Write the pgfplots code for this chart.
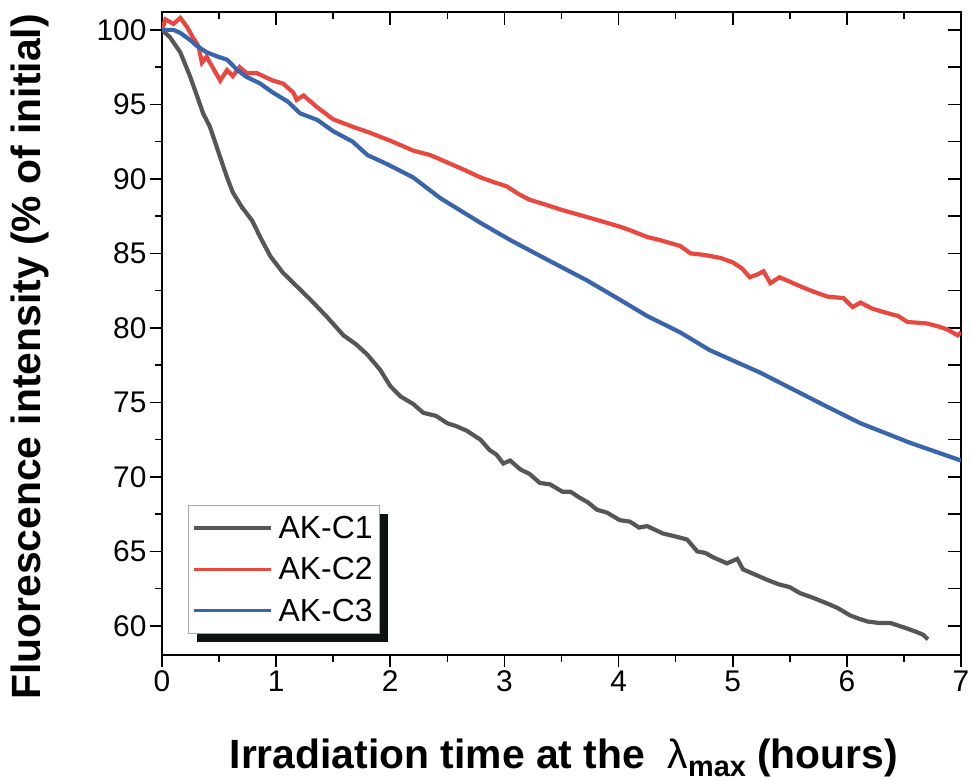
\documentclass[border=0pt]{standalone}
\usepackage{fontspec}
\setmainfont{Liberation Sans}
\usepackage{pgfplots}
\pgfplotsset{compat=1.18}
\usetikzlibrary{calc}
\definecolor{cGray}{RGB}{88,86,84}
\definecolor{cRed}{RGB}{232,72,64}
\definecolor{cBlue}{RGB}{58,100,172}
\definecolor{cShadow}{RGB}{16,20,16}

\begin{document}
\begin{tikzpicture}
\pgfplotsset{
  frame/.style={
    scale only axis, width=799bp, height=643bp,
    xmin=0, xmax=7, ymin=58.05, ymax=101.2,
    axis line style={line width=1.6bp},
    every tick/.style={line width=1.6bp, black},
    /pgf/number format/assume math mode=true,
    tick label style={font=\fontsize{30}{32}\selectfont},
  }
}
% top and right: ticks pointing in
\begin{axis}[frame,
    xtick={0,...,7}, minor x tick num=1,
    ytick={60,62.5,...,100},
    xtick pos=right, ytick pos=right, tick align=inside,
    major tick length=13bp, minor tick length=7bp,
    xticklabels={}, yticklabels={}]
\end{axis}
% main axis
\begin{axis}[frame,
    xtick={0,...,7}, minor x tick num=1,
    ytick={60,65,...,100}, minor y tick num=1,
    xtick pos=left, ytick pos=left, tick align=outside,
    major tick length=12bp, minor tick length=7bp,
    xlabel={\bfseries Irradiation time at the \ \textmd{λ}{\fontsize{29}{30}\selectfont\raisebox{-8bp}{max}} (hours)},
    ylabel={\bfseries Fluorescence intensity (\% of initial)},
    label style={font=\fontsize{41}{44}\selectfont},
    xlabel style={at={(axis description cs:0.503,-0.176)}, anchor=base},
    ylabel style={at={(axis description cs:-0.152,0.4635)}, anchor=base},
    legend style={at={(axis description cs:0.0375,0.2160)}, anchor=north west,
      draw=none, fill=none,
      font=\fontsize{32}{35}\selectfont,
      nodes={inner sep=0pt},
      inner sep=0pt, row sep=17.5bp,
      /tikz/every odd column/.append style={column sep=6bp},
      cells={anchor=west}},
    legend image code/.code={\draw[#1, line width=3.5bp] (0bp,0bp) -- (77bp,0bp);},
    legend cell align=left,
  ]
\addplot[cGray, line width=4.2bp] coordinates {
(0,100) (0.07,99.5) (0.16,98.5) (0.245,96.9) (0.31,95.5) (0.36,94.4) (0.42,93.5)
(0.49,91.9) (0.57,90.1) (0.62,89.1) (0.70,88.1) (0.79,87.2) (0.86,86.1) (0.95,84.8)
(1.06,83.7) (1.18,82.8) (1.30,81.9) (1.45,80.7) (1.59,79.5) (1.70,78.9) (1.80,78.2)
(1.91,77.2) (2.00,76.1) (2.09,75.4) (2.20,74.9) (2.29,74.3) (2.40,74.1) (2.50,73.6)
(2.58,73.4) (2.67,73.1) (2.79,72.5) (2.87,71.8) (2.93,71.5) (2.99,70.9) (3.05,71.1)
(3.14,70.5) (3.22,70.2) (3.31,69.6) (3.40,69.5) (3.51,69.0) (3.58,69.0) (3.66,68.6)
(3.73,68.3) (3.81,67.8) (3.90,67.6) (4.01,67.1) (4.10,67.0) (4.18,66.6) (4.25,66.7)
(4.39,66.2) (4.50,66.0) (4.60,65.8) (4.69,65.0) (4.76,64.9) (4.83,64.6) (4.95,64.2)
(5.04,64.5) (5.09,63.8) (5.18,63.5) (5.30,63.1) (5.40,62.8) (5.50,62.6) (5.59,62.2)
(5.70,61.9) (5.83,61.5) (5.92,61.2) (6.03,60.7) (6.10,60.5) (6.18,60.3) (6.28,60.2)
(6.38,60.2) (6.50,59.9) (6.61,59.6) (6.67,59.4) (6.71,59.1)
};
\addlegendentry{AK-C1}
\addplot[cRed, line width=4.2bp] coordinates {
(0,100) (0.03,100.7) (0.1,100.4) (0.16,100.8) (0.22,100.2) (0.27,99.5) (0.32,98.9)
(0.35,97.8) (0.39,98.2) (0.45,97.4) (0.51,96.6) (0.57,97.3) (0.62,96.9) (0.68,97.5)
(0.74,97.1) (0.83,97.1) (0.97,96.6) (1.06,96.4) (1.15,95.8) (1.18,95.3) (1.24,95.6)
(1.36,94.8) (1.50,94.0) (1.67,93.5) (1.82,93.1) (2.02,92.5) (2.20,91.9) (2.35,91.6)
(2.50,91.1) (2.65,90.6) (2.79,90.1) (2.90,89.8) (3.02,89.5) (3.12,89.0) (3.22,88.6)
(3.35,88.3) (3.51,87.9) (3.65,87.6) (3.81,87.25) (4.01,86.8) (4.12,86.5) (4.25,86.1)
(4.36,85.9) (4.54,85.5) (4.63,85.0) (4.75,84.9) (4.89,84.7) (5.00,84.4) (5.08,84.0)
(5.15,83.4) (5.22,83.6) (5.27,83.8) (5.33,83.0) (5.41,83.4) (5.50,83.1) (5.62,82.7)
(5.72,82.4) (5.83,82.1) (5.97,82.0) (6.05,81.4) (6.12,81.7) (6.22,81.3) (6.35,81.0)
(6.45,80.8) (6.53,80.4) (6.70,80.3) (6.80,80.1) (6.88,79.9) (6.97,79.5) (7.0,79.7)
};
\addlegendentry{AK-C2}
\addplot[cBlue, line width=4.2bp] coordinates {
(0,100) (0.1,100) (0.16,99.8) (0.25,99.3) (0.31,98.9) (0.39,98.5) (0.49,98.2)
(0.57,98.0) (0.66,97.3) (0.74,96.85) (0.86,96.4) (0.97,95.8) (1.10,95.2) (1.21,94.4)
(1.36,93.96) (1.50,93.2) (1.67,92.5) (1.80,91.6) (1.97,91.0) (2.20,90.1) (2.44,88.7)
(2.79,87.05) (3.05,85.9) (3.37,84.6) (3.72,83.2) (4.01,81.9) (4.25,80.8) (4.54,79.7)
(4.80,78.5) (5.24,77.0) (5.83,74.7) (6.12,73.6) (6.55,72.3) (7.0,71.1)
};
\addlegendentry{AK-C3}
% legend frame with its shadow
\fill[cShadow] ($(axis description cs:0.0325,0.2333)+(9bp,-9bp)$) rectangle ($(axis description cs:0.2716,0.0342)+(9bp,-9bp)$);
\filldraw[fill=white, draw=gray!70, line width=0.8bp] (axis description cs:0.0325,0.2333) rectangle (axis description cs:0.2716,0.0342);
\coordinate (sw) at (rel axis cs:0,0);
\coordinate (ne) at (rel axis cs:1,1);
\end{axis}
\pgfresetboundingbox
\path[use as bounding box] ($(sw)+(-162bp,-127bp)$) rectangle ($(ne)+(12bp,12bp)$);
\end{tikzpicture}
\end{document}
